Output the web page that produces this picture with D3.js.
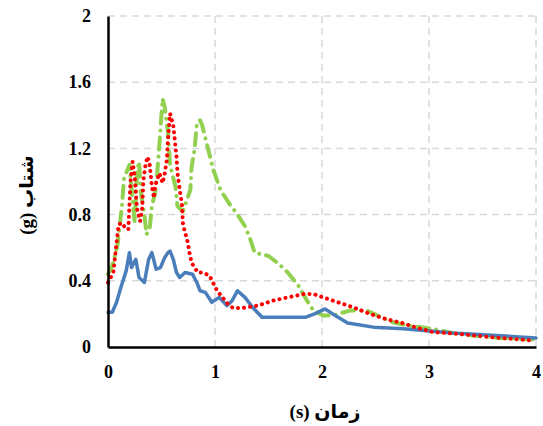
<!DOCTYPE html>
<html>
<head>
<meta charset="utf-8">
<script src="https://cdn.jsdelivr.net/npm/d3@7"></script>
<style>
  body { margin: 0; background: #fff; }
</style>
</head>
<body>
<div id="myPlot"></div>
<script>
// Set Dimensions
const width = 543;
const height = 426;
const plotLeft = 108, plotRight = 536, plotTop = 16, plotBottom = 347;

const xTicks = [0, 1, 2, 3, 4];
const yTicks = [0, 0.4, 0.8, 1.2, 1.6, 2];
const xTitle = "زمان (s)";
const yTitle = "شتاب (g)";

// blue solid series
const blueT = [0, 0.04, 0.08, 0.12, 0.17, 0.20, 0.22, 0.26, 0.29, 0.34, 0.38, 0.41, 0.45, 0.49, 0.53, 0.56, 0.58, 0.61, 0.64, 0.67, 0.72, 0.79, 0.83, 0.86, 0.91, 0.97, 1.04, 1.11, 1.16, 1.21, 1.28, 1.35, 1.44, 1.65, 1.85, 1.93, 2.03, 2.10, 2.24, 2.48, 2.76, 3.22, 4.0];
const blueA = [0.21, 0.21, 0.27, 0.36, 0.46, 0.57, 0.48, 0.53, 0.42, 0.39, 0.53, 0.57, 0.47, 0.48, 0.54, 0.57, 0.58, 0.53, 0.45, 0.42, 0.45, 0.44, 0.39, 0.34, 0.33, 0.27, 0.30, 0.25, 0.28, 0.34, 0.30, 0.24, 0.18, 0.18, 0.18, 0.20, 0.23, 0.20, 0.145, 0.12, 0.11, 0.085, 0.055];

// red dotted series
const redT = [0, 0.05, 0.08, 0.10, 0.13, 0.16, 0.19, 0.21, 0.23, 0.25, 0.27, 0.30, 0.32, 0.33, 0.35, 0.37, 0.39, 0.41, 0.43, 0.44, 0.46, 0.48, 0.50, 0.51, 0.53, 0.55, 0.56, 0.58, 0.61, 0.64, 0.65, 0.67, 0.69, 0.70, 0.72, 0.74, 0.77, 0.79, 0.84, 0.89, 0.95, 0.98, 1.02, 1.07, 1.12, 1.17, 1.25, 1.40, 1.54, 1.68, 1.83, 1.92, 2.01, 2.15, 2.29, 2.45, 2.59, 2.75, 2.89, 3.04, 3.26, 3.57, 3.96];
const redA = [0.39, 0.45, 0.63, 0.74, 0.75, 0.72, 0.71, 1.0, 1.12, 1.03, 0.84, 0.76, 0.84, 1.0, 1.10, 1.15, 1.10, 0.97, 0.90, 0.97, 1.01, 1.05, 1.01, 0.99, 1.05, 1.13, 1.25, 1.41, 1.34, 1.15, 1.05, 0.95, 0.87, 0.75, 0.69, 0.65, 0.54, 0.50, 0.45, 0.45, 0.43, 0.39, 0.34, 0.30, 0.26, 0.235, 0.235, 0.25, 0.28, 0.30, 0.32, 0.32, 0.30, 0.27, 0.24, 0.20, 0.17, 0.145, 0.115, 0.09, 0.08, 0.06, 0.04];

// green dash-dot series
const greenT = [0, 0.04, 0.09, 0.13, 0.15, 0.20, 0.22, 0.25, 0.27, 0.29, 0.31, 0.34, 0.36, 0.39, 0.41, 0.44, 0.46, 0.48, 0.51, 0.53, 0.56, 0.58, 0.63, 0.65, 0.70, 0.77, 0.78, 0.81, 0.83, 0.86, 0.88, 0.93, 0.98, 1.05, 1.14, 1.20, 1.28, 1.33, 1.37, 1.50, 1.60, 1.68, 1.78, 1.86, 1.92, 2.01, 2.10, 2.26, 2.42, 2.52, 2.66, 2.80, 3.03, 3.26, 3.65, 4.0];
const greenA = [0.44, 0.49, 0.62, 0.85, 1.02, 1.10, 0.96, 0.75, 1.05, 1.12, 0.92, 0.80, 0.68, 0.72, 0.85, 0.93, 1.05, 1.22, 1.50, 1.45, 1.30, 1.10, 0.97, 0.85, 0.82, 0.95, 1.08, 1.20, 1.35, 1.37, 1.34, 1.21, 1.08, 0.95, 0.86, 0.81, 0.73, 0.65, 0.57, 0.55, 0.50, 0.45, 0.37, 0.28, 0.22, 0.19, 0.19, 0.22, 0.22, 0.19, 0.15, 0.13, 0.11, 0.08, 0.055, 0.045];

const serif = "'Liberation Serif', 'Times New Roman', serif";

const svg = d3.select("#myPlot")
  .append("svg")
  .attr("width", width)
  .attr("height", height);

// Scales
const x = d3.scaleLinear().domain([0, 4]).range([plotLeft, plotRight]);
const y = d3.scaleLinear().domain([0, 2]).range([plotBottom, plotTop]);

// Grid
svg.append("g")
  .selectAll("line")
  .data(xTicks.slice(1)).enter()
  .append("line")
  .attr("x1", d => x(d)).attr("x2", d => x(d))
  .attr("y1", plotTop).attr("y2", plotBottom)
  .attr("stroke", "#d9d9d9").attr("stroke-width", 1.5)
  .attr("stroke-dasharray", "7,5");

svg.append("g")
  .selectAll("line")
  .data(yTicks.slice(1)).enter()
  .append("line")
  .attr("x1", plotLeft).attr("x2", plotRight)
  .attr("y1", d => y(d)).attr("y2", d => y(d))
  .attr("stroke", "#d9d9d9").attr("stroke-width", 1.5)
  .attr("stroke-dasharray", "7,5");

// Series
function series(ts, vals, color, dash, w) {
  const pts = ts.map((t, i) => [t, vals[i]]);
  svg.append("path")
    .datum(pts)
    .attr("fill", "none")
    .attr("stroke", color)
    .attr("stroke-width", w)
    .attr("stroke-linecap", "round")
    .attr("stroke-linejoin", "round")
    .attr("stroke-dasharray", dash)
    .attr("d", d3.line().x(d => x(d[0])).y(d => y(d[1])));
}
series(greenT, greenA, "#92d050", "12,7,0.1,7", 4);
series(blueT, blueA, "#4a7ebb", null, 3.5);
series(redT, redA, "#ff0000", "0.1,6", 4);

// Axes
const xAxis = svg.append("g")
  .attr("transform", "translate(0," + plotBottom + ")")
  .call(d3.axisBottom(x).tickValues(xTicks).tickFormat(d3.format("d")).tickSize(0).tickPadding(18))
  .attr("font-family", serif).attr("font-size", 18).attr("font-weight", "bold");
xAxis.select(".domain").attr("stroke", "#000").attr("stroke-width", 2.5);
xAxis.selectAll("text").attr("fill", "#000");

const yAxis = svg.append("g")
  .attr("transform", "translate(" + plotLeft + ",0)")
  .call(d3.axisLeft(y).tickValues(yTicks).tickFormat(d => d === 0 ? "0" : d3.format("")(d)).tickSize(0).tickPadding(17))
  .attr("font-family", serif).attr("font-size", 18).attr("font-weight", "bold");
yAxis.select(".domain").attr("stroke", "#000").attr("stroke-width", 2.5);
yAxis.selectAll("text").attr("fill", "#000");

// Titles
svg.append("text")
  .attr("x", 325).attr("y", 418)
  .attr("text-anchor", "middle")
  .attr("direction", "rtl")
  .attr("font-family", "'Liberation Serif', 'DejaVu Sans', serif")
  .attr("font-weight", "bold")
  .attr("font-size", 19)
  .text(xTitle);

svg.append("text")
  .attr("transform", "translate(33,195) rotate(-90)")
  .attr("text-anchor", "middle")
  .attr("direction", "rtl")
  .attr("font-family", "'Liberation Serif', 'DejaVu Sans', serif")
  .attr("font-weight", "bold")
  .attr("font-size", 19)
  .text(yTitle);
</script>
</body>
</html>
